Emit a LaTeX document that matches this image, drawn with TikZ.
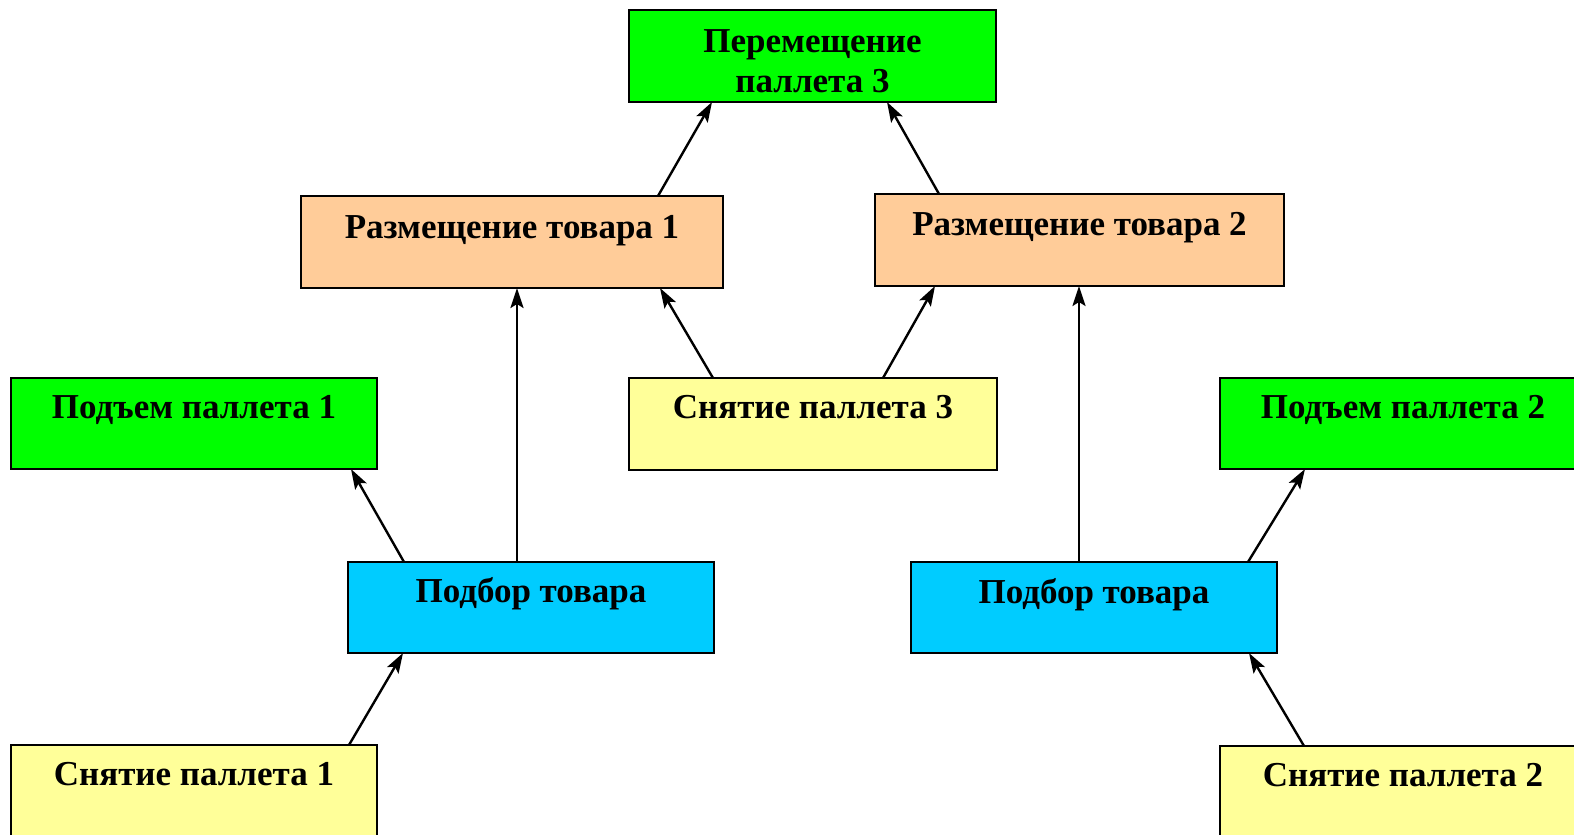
\documentclass[tikz,border=0pt]{standalone}
\usepackage{fontspec}
\setmainfont{Liberation Serif}
\usetikzlibrary{calc,arrows.meta}
\definecolor{cgreen}{HTML}{00FF00}
\definecolor{cpeach}{HTML}{FFCC99}
\definecolor{cyel}{HTML}{FFFF99}
\definecolor{ccyan}{HTML}{00CCFF}
\tikzset{
  box/.style={draw=black, line width=2.8pt, rectangle, anchor=north west, outer sep=0pt, inner sep=0pt, minimum height=92pt},
  lbl/.style={anchor=base, inner sep=0pt, font=\bfseries\fontsize{35}{40}\selectfont, align=center},
  arr/.style={line width=2.4pt, -{Stealth[length=20pt,width=13pt,inset=4pt]}}
}
\begin{document}
\begin{tikzpicture}[x=1pt,y=-1pt]
\useasboundingbox (0,0) rectangle (1574,835);
\clip (0,0) rectangle (1574,835);
% boxes
\node[box, fill=cgreen, minimum width=367pt] (p3) at (629,10) {};
\node[box, fill=cpeach, minimum width=422pt] (r1) at (301,196) {};
\node[box, fill=cpeach, minimum width=409pt] (r2) at (875,194) {};
\node[box, fill=cgreen, minimum width=366pt, minimum height=91pt] (u1) at (11,378) {};
\node[box, fill=cyel, minimum width=368pt] (s3) at (629,378) {};
\node[box, fill=cgreen, minimum width=366pt, minimum height=91pt] (u2) at (1220,378) {};
\node[box, fill=ccyan, minimum width=366pt, minimum height=91pt] (b1) at (348,562) {};
\node[box, fill=ccyan, minimum width=366pt, minimum height=91pt] (b2) at (911,562) {};
\node[box, fill=cyel, minimum width=366pt] (s1) at (11,745) {};
\node[box, fill=cyel, minimum width=366pt] (s2) at (1220,746) {};
% labels
\node[lbl] (tp3a) at ($(p3.north)+(0,42)$) {Перемещение};
\node[lbl] (tp3b) at ($(p3.north)+(0,82)$) {паллета 3};
\node[lbl] (tr1) at ($(r1.north)+(0,42)$) {Размещение товара 1};
\node[lbl] (tr2) at ($(r2.north)+(0,41)$) {Размещение товара 2};
\node[lbl] (tu1) at ($(u1.north)+(0,40)$) {Подъем паллета 1};
\node[lbl] (ts3) at ($(s3.north)+(0,40)$) {Снятие паллета 3};
\node[lbl] (tu2) at ($(u2.north)+(0,40)$) {Подъем паллета 2};
\node[lbl] (tb1) at ($(b1.north)+(0,40)$) {Подбор товара};
\node[lbl] (tb2) at ($(b2.north)+(0,41)$) {Подбор товара};
\node[lbl] (ts1) at ($(s1.north)+(0,40)$) {Снятие паллета 1};
\node[lbl] (ts2) at ($(s2.north)+(0,40)$) {Снятие паллета 2};
% connectors
\draw[arr] ($(r1.north west)+(357,0)$) -- ($(p3.south west)+(83,0)$);
\draw[arr] ($(r2.north west)+(64,0)$) -- ($(p3.south west)+(258,0)$);
\draw[arr] ($(s3.north west)+(84,0)$) -- ($(r1.south west)+(359,0)$);
\draw[arr] ($(s3.north west)+(254,0)$) -- ($(r2.south west)+(60,0)$);
\draw[arr] ($(b1.north west)+(169,0)$) -- ($(r1.south west)+(216,0)$);
\draw[arr] ($(b1.north west)+(56,0)$) -- ($(u1.south west)+(340,0)$);
\draw[arr] ($(s1.north west)+(338,0)$) -- ($(b1.south west)+(55,0)$);
\draw[arr] ($(b2.north west)+(168,0)$) -- ($(r2.south west)+(204,0)$);
\draw[arr] ($(b2.north west)+(337,0)$) -- ($(u2.south west)+(85,0)$);
\draw[arr] ($(s2.north west)+(84,0)$) -- ($(b2.south west)+(338,0)$);
\end{tikzpicture}
\end{document}
